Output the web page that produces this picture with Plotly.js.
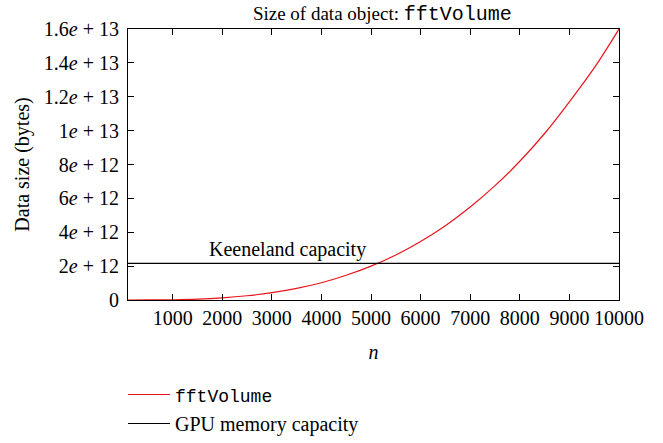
<!DOCTYPE html>
<html>
<head>
<meta charset="utf-8">
<script src="https://cdn.plot.ly/plotly-3.0.1.min.js"></script>
<style>html,body{margin:0;padding:0;background:#fff;}#chart{width:663px;height:443px;}</style>
</head>
<body>
<div id="chart"></div>
<script>
var nValues = [100, 500, 1000, 1500, 2000, 2500, 3000, 3500, 4000, 4500, 5000, 5500, 6000, 6500, 7000, 7500, 8000, 8500, 9000, 9500, 10000];
var fftVolumeBytes = [1.6e7, 2.0e9, 1.6e10, 5.4e10, 1.28e11, 2.5e11, 4.32e11, 6.86e11, 1.02e12, 1.46e12, 2.0e12, 2.66e12, 3.46e12, 4.39e12, 5.49e12, 6.75e12, 8.19e12, 9.83e12, 1.17e13, 1.37e13, 1.6e13];
var capacityN = [100, 10000];
var capacityBytes = [2.16e12, 2.16e12];
var xTickVals = [1000, 2000, 3000, 4000, 5000, 6000, 7000, 8000, 9000, 10000];
var xTickText = ['1000', '2000', '3000', '4000', '5000', '6000', '7000', '8000', '9000', '10000'];
var yTickVals = [0, 2e12, 4e12, 6e12, 8e12, 1e13, 1.2e13, 1.4e13, 1.6e13];
var yTickText = ['0', '2<i>e</i> + 12', '4<i>e</i> + 12', '6<i>e</i> + 12', '8<i>e</i> + 12', '1<i>e</i> + 13', '1.2<i>e</i> + 13', '1.4<i>e</i> + 13', '1.6<i>e</i> + 13'];

var serif = "'Liberation Serif', 'DejaVu Serif', serif";

var traces = [
  {x: nValues, y: fftVolumeBytes, mode: 'lines', line: {color: '#e8141c', width: 1.2, shape: 'spline'},
   name: '<span style="font-family:Liberation Mono;font-size:18px">fftVolume</span>'},
  {x: capacityN, y: capacityBytes, mode: 'lines', line: {color: '#000', width: 1.2},
   name: 'GPU memory capacity'}
];

var layout = {
  width: 663, height: 443,
  margin: {l: 128, r: 44, t: 29, b: 143},
  paper_bgcolor: '#fff', plot_bgcolor: '#fff',
  font: {family: serif, size: 20, color: '#000'},
  title: {text: 'Size of data object: <span style="font-family:Liberation Mono;font-size:20px">fftVolume</span>',
          font: {family: serif, size: 19, color: '#000'}, xref: 'paper', x: 0.518, xanchor: 'center',
          yref: 'container', y: 0.985, yanchor: 'top'},
  xaxis: {range: [100, 10000], tickvals: xTickVals, ticktext: xTickText, ticks: 'inside', ticklen: 6,
          tickcolor: '#000', showline: true, linecolor: '#000', linewidth: 1, mirror: 'ticks',
          showgrid: false, zeroline: false, tickfont: {size: 20},
          title: {text: '<i>n</i>', font: {family: serif, size: 20}, standoff: 16}},
  yaxis: {range: [0, 1.6e13], tickvals: yTickVals, ticktext: yTickText, ticks: 'inside', ticklen: 6,
          tickcolor: '#000', showline: true, linecolor: '#000', linewidth: 1, mirror: 'ticks',
          showgrid: false, zeroline: false, tickfont: {size: 20}, ticklabelstandoff: 4,
          title: {text: 'Data size (bytes)', font: {family: serif, size: 20}, standoff: 8}},
  showlegend: true,
  legend: {x: -0.0102, xref: 'paper', xanchor: 'left', y: (443 - 375) / 443, yref: 'container', yanchor: 'top',
           orientation: 'v', font: {family: serif, size: 20}, bgcolor: 'rgba(0,0,0,0)', tracegroupgap: 0, itemwidth: 42},
  annotations: [{x: 1700, y: 2.16e12, xref: 'x', yref: 'y', xanchor: 'left', yanchor: 'bottom',
                 text: 'Keeneland capacity', showarrow: false, font: {family: serif, size: 20}, yshift: 0}]
};

Plotly.newPlot('chart', traces, layout, {displayModeBar: false, staticPlot: true});
</script>
</body>
</html>
